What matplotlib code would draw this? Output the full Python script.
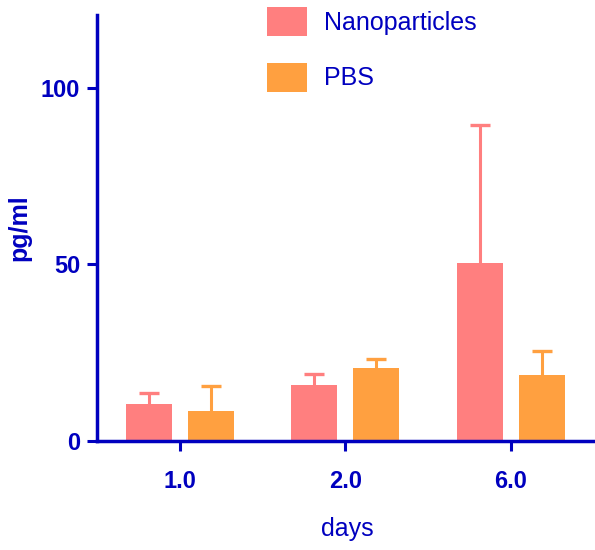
import matplotlib
matplotlib.use("Agg")
import matplotlib.pyplot as plt
import numpy as np

# data
days = ["1.0", "2.0", "6.0"]
nano = [10.5, 15.9, 50.3]
nano_err = [3.0, 3.1, 39.3]
pbs = [8.5, 20.7, 18.6]
pbs_err = [7.1, 2.5, 7.0]

blue = "#0000BF"
c_nano = "#FF7F7F"
c_pbs = "#FFA040"

plt.rcParams["font.family"] = ["Liberation Sans", "DejaVu Sans"]

fig = plt.figure(figsize=(5.95, 5.5), dpi=100)
ax = fig.add_axes([97 / 595, 109 / 550, 500 / 595, 426 / 550])

x = np.arange(len(days))
w = 0.277
off = 0.187
for xs, vals, errs, col, lab in [(x - off, nano, nano_err, c_nano, "Nanoparticles"),
                                  (x + off, pbs, pbs_err, c_pbs, "PBS")]:
    ax.bar(xs, vals, width=w, color=col, label=lab, zorder=2)
    eb = ax.errorbar(xs, vals, yerr=[np.zeros(len(errs)), errs], fmt="none", ecolor=col,
                     elinewidth=2.2, capsize=7.5, capthick=2.4, zorder=1)
    # only the upper cap is drawn in the original
    eb.lines[1][0].set_visible(False)

ax.set_xlim(-0.5, 2.52)
ax.set_ylim(0, 120.6)
ax.set_yticks([0, 50, 100])
ax.set_xticks(x)
ax.set_xticklabels(days)

for s in ["top", "right"]:
    ax.spines[s].set_visible(False)
for s in ["left", "bottom"]:
    ax.spines[s].set_color(blue)
    ax.spines[s].set_linewidth(2.5)

ax.tick_params(axis="y", colors=blue, length=7, width=2.2, pad=5, labelsize=17)
ax.tick_params(axis="x", colors=blue, length=7, width=2.2, pad=14, labelsize=17)
for lbl in ax.get_xticklabels() + ax.get_yticklabels():
    lbl.set_fontweight("bold")

ax.set_ylabel("pg/ml", color=blue, fontsize=18, fontweight="bold", labelpad=7)
ax.set_xlabel("days", color=blue, fontsize=18, labelpad=17)

leg = ax.legend(loc="upper left", bbox_to_anchor=(267 / 595, 1 - 7 / 550),
                bbox_transform=fig.transFigure, frameon=False, fontsize=18,
                borderpad=0, borderaxespad=0, handlelength=1.6, handleheight=1.4,
                handletextpad=0.7, labelspacing=1.07)
for t in leg.get_texts():
    t.set_color(blue)

fig.savefig("out.png", dpi=100)
